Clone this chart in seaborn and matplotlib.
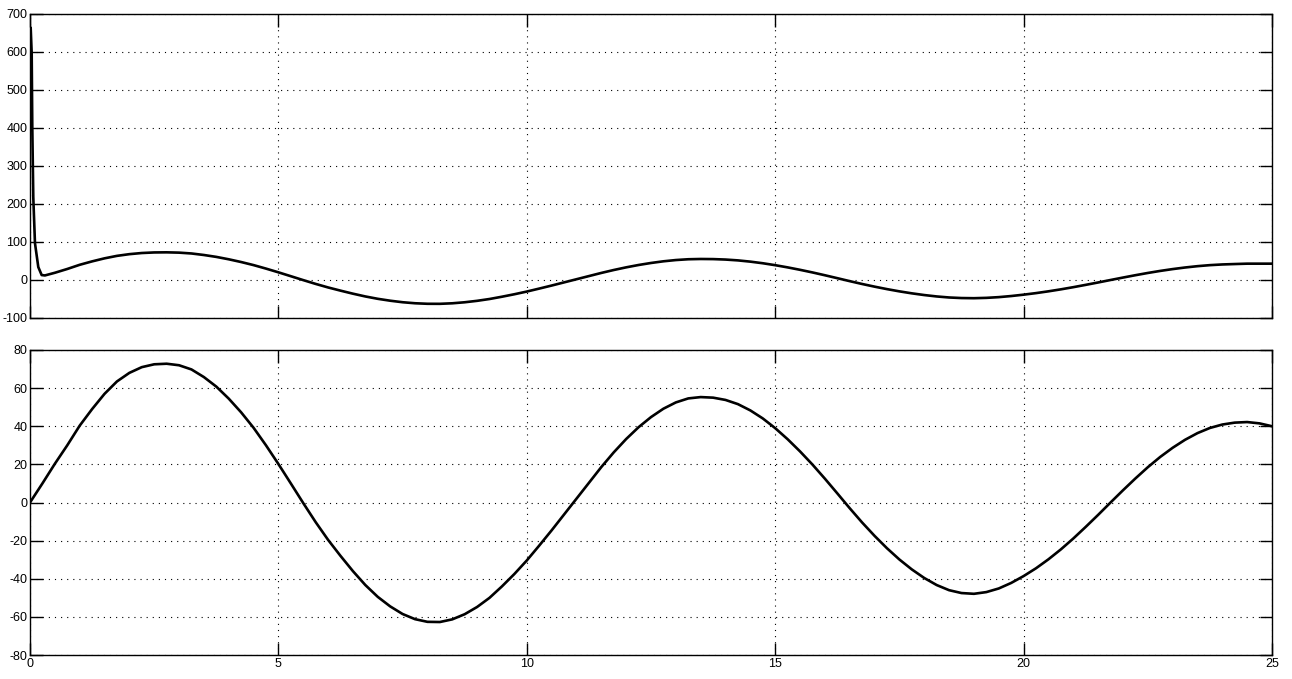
import matplotlib
matplotlib.use("Agg")
import matplotlib.pyplot as plt
import seaborn as sns

# ---- data ----
# bottom panel: signal vs time (sampled every 0.25 s)
bottom_t = [0.00, 0.25, 0.50, 0.75, 1.00, 1.25, 1.50, 1.75, 2.00, 2.25, 2.50, 2.75,
            3.00, 3.25, 3.50, 3.75, 4.00, 4.25, 4.50, 4.75, 5.00, 5.25, 5.50, 5.75,
            6.00, 6.25, 6.50, 6.75, 7.00, 7.25, 7.50, 7.75, 8.00, 8.25, 8.50, 8.75,
            9.00, 9.25, 9.50, 9.75, 10.00, 10.25, 10.50, 10.75, 11.00, 11.25, 11.50, 11.75,
            12.00, 12.25, 12.50, 12.75, 13.00, 13.25, 13.50, 13.75, 14.00, 14.25, 14.50, 14.75,
            15.00, 15.25, 15.50, 15.75, 16.00, 16.25, 16.50, 16.75, 17.00, 17.25, 17.50, 17.75,
            18.00, 18.25, 18.50, 18.75, 19.00, 19.25, 19.50, 19.75, 20.00, 20.25, 20.50, 20.75,
            21.00, 21.25, 21.50, 21.75, 22.00, 22.25, 22.50, 22.75, 23.00, 23.25, 23.50, 23.75,
            24.00, 24.25, 24.50, 24.75, 25.00]
bottom_v = [0.0, 10.0, 20.3, 30.0, 40.3, 49.0, 57.0, 63.5, 68.0, 71.0, 72.5, 72.8,
            72.0, 69.8, 65.8, 60.8, 54.5, 47.3, 39.2, 30.0, 20.2, 10.0, -0.3, -10.3,
            -19.6, -28.0, -36.0, -43.3, -49.5, -54.5, -58.5, -61.2, -62.6, -62.7, -61.3, -58.6,
            -54.8, -50.0, -44.0, -37.5, -30.4, -22.6, -14.6, -6.3, 2.0, 10.3, 18.6, 26.3,
            33.3, 39.5, 44.8, 49.2, 52.5, 54.6, 55.3, 55.0, 53.8, 51.6, 48.3, 44.1,
            39.0, 33.2, 26.8, 19.9, 12.5, 4.8, -3.0, -10.5, -17.5, -24.0, -29.9, -35.1,
            -39.6, -43.3, -46.0, -47.5, -47.9, -47.0, -45.1, -42.2, -38.6, -34.5, -29.8, -24.6,
            -18.9, -12.8, -6.5, 0.0, 6.4, 12.6, 18.5, 23.9, 28.7, 32.9, 36.4, 39.1,
            40.9, 41.9, 42.2, 41.5, 40.0]

# top panel: same oscillation plus an initial spike
top_t = [0.000, 0.005, 0.014, 0.034, 0.046, 0.066, 0.100, 0.167, 0.235, 0.30,
         0.50, 0.75, 1.00, 1.25, 1.50, 1.75, 2.00, 2.25, 2.50, 2.75,
         3.00, 3.25, 3.50, 3.75, 4.00, 4.25, 4.50, 4.75, 5.00, 5.25, 5.50, 5.75,
         6.00, 6.25, 6.50, 6.75, 7.00, 7.25, 7.50, 7.75, 8.00, 8.25, 8.50, 8.75,
         9.00, 9.25, 9.50, 9.75, 10.00, 10.25, 10.50, 10.75, 11.00, 11.25, 11.50, 11.75,
         12.00, 12.25, 12.50, 12.75, 13.00, 13.25, 13.50, 13.75, 14.00, 14.25, 14.50, 14.75,
         15.00, 15.25, 15.50, 15.75, 16.00, 16.25, 16.50, 16.75, 17.00, 17.25, 17.50, 17.75,
         18.00, 18.25, 18.50, 18.75, 19.00, 19.25, 19.50, 19.75, 20.00, 20.25, 20.50, 20.75,
         21.00, 21.25, 21.50, 21.75, 22.00, 22.25, 22.50, 22.75, 23.00, 23.25, 23.50, 23.75,
         24.00, 24.25, 24.50, 24.75, 25.00]
top_v = [570.0, 665.0, 663.0, 597.0, 403.0, 218.0, 97.0, 34.0, 13.0, 12.0,
         19.0, 29.0, 40.0, 49.0, 57.0, 63.5, 68.0, 71.0, 72.5, 72.8,
         72.0, 69.8, 65.8, 60.8, 54.5, 47.3, 39.2, 30.0, 20.2, 10.0, -0.3, -10.3,
         -19.6, -28.0, -36.0, -43.3, -49.5, -54.5, -58.5, -61.2, -62.6, -62.7, -61.3, -58.6,
         -54.8, -50.0, -44.0, -37.5, -30.4, -22.6, -14.6, -6.3, 2.0, 10.3, 18.6, 26.3,
         33.3, 39.5, 44.8, 49.2, 52.5, 54.6, 55.3, 55.0, 53.8, 51.6, 48.3, 44.1,
         39.0, 33.2, 26.8, 19.9, 12.5, 4.8, -3.0, -10.5, -17.5, -24.0, -29.9, -35.1,
         -39.6, -43.3, -46.0, -47.5, -47.9, -47.0, -45.1, -42.2, -38.6, -34.5, -29.8, -24.6,
         -18.9, -12.8, -6.5, 0.0, 6.4, 12.6, 18.5, 23.9, 28.7, 32.9, 36.4, 39.1,
         40.9, 42.0, 43.0, 43.0, 43.0]

x_ticks = [0, 5, 10, 15, 20, 25]
top_yticks = [-100, 0, 100, 200, 300, 400, 500, 600, 700]
bottom_yticks = [-80, -60, -40, -20, 0, 20, 40, 60, 80]

# ---- styling ----
sns.set_style("white")
plt.rcParams["font.family"] = ["Liberation Sans", "DejaVu Sans"]

W, H = 1292, 679
fig = plt.figure(figsize=(W / 100, H / 100), dpi=100)
fig.patch.set_facecolor("white")

ax_top = fig.add_axes([30 / W, 1 - 318 / H, 1242 / W, 304 / H])
ax_bot = fig.add_axes([30 / W, 1 - 655 / H, 1242 / W, 305 / H])


def style(ax, yticks, ylim, show_xlabels):
    ax.set_xlim(0, 25)
    ax.set_ylim(*ylim)
    ax.set_xticks(x_ticks)
    ax.set_yticks(yticks)
    ax.set_yticklabels([str(v) for v in yticks])
    if show_xlabels:
        ax.set_xticklabels([str(v) for v in x_ticks])
    else:
        ax.set_xticklabels([])
    ax.set_xlabel("")
    ax.set_ylabel("")
    ax.tick_params(direction="in", length=9, width=1, colors="black",
                   top=True, right=True, left=True, bottom=True,
                   labelsize=9, pad=2)
    for s in ax.spines.values():
        s.set_visible(True)
        s.set_color("black")
        s.set_linewidth(1)
    ax.grid(True, color="black", linewidth=0.8, linestyle=(0, (1, 4.5)))
    ax.set_axisbelow(True)
    ax.set_facecolor("white")
    if ax.get_legend() is not None:
        ax.get_legend().remove()


sns.lineplot(x=top_t, y=top_v, ax=ax_top, color="black", linewidth=1.9, sort=False,
             estimator=None)
sns.lineplot(x=bottom_t, y=bottom_v, ax=ax_bot, color="black", linewidth=1.9, sort=False,
             estimator=None)

style(ax_top, top_yticks, (-100, 700), False)
style(ax_bot, bottom_yticks, (-80, 80), True)

fig.savefig("out.png", dpi=100, facecolor="white")
